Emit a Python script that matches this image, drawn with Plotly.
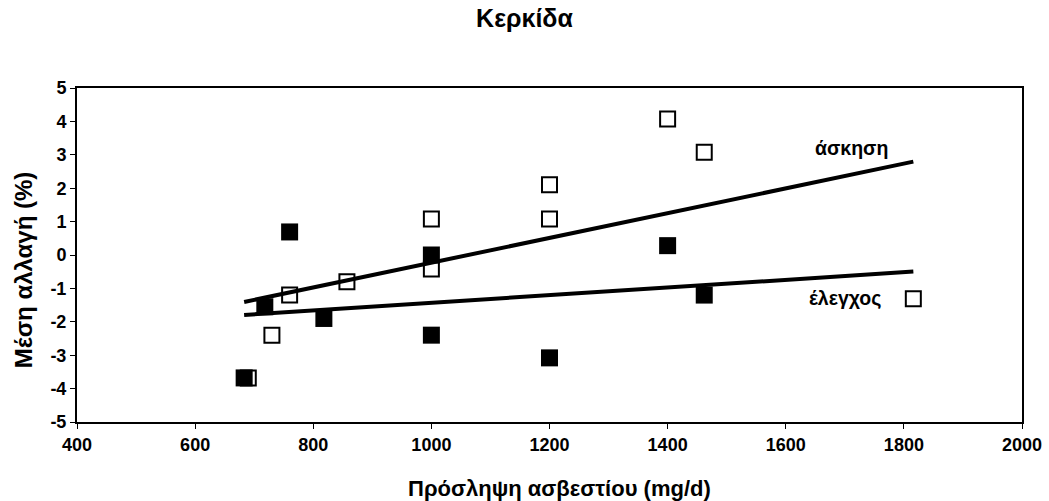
import numpy as np
import plotly.graph_objects as go

# Exercise group (open squares)
ex_x = [1400, 1462, 1200, 1200, 1000, 1000, 857, 760, 730, 690, 1816]
ex_y = [4.07, 3.08, 2.1, 1.08, 1.08, -0.42, -0.8, -1.2, -2.4, -3.68, -1.31]
# Control group (filled squares)
ct_x = [760, 1000, 1400, 1462, 718, 818, 1000, 1200, 683]
ct_y = [0.69, 0.0, 0.28, -1.2, -1.55, -1.9, -2.4, -3.08, -3.68]

x_tickvals = [400, 600, 800, 1000, 1200, 1400, 1600, 1800, 2000]
x_ticktext = ["400", "600", "800", "1000", "1200", "1400", "1600", "1800", "2000"]
y_tickvals = [-5, -4, -3, -2, -1, 0, 1, 2, 3, 4, 5]
y_ticktext = ["-5", "-4", "-3", "-2", "-1", "0", "1", "2", "3", "4", "5"]

title_text = "Κερκίδα"
x_title = "Πρόσληψη ασβεστίου (mg/d)"
y_title = "Μέση αλλαγή (%)"
label_ex = "άσκηση"
label_ct = "έλεγχος"

FONT = "Liberation Sans, Arial, sans-serif"

# Linear trendlines (least squares) over the full data span
all_x = ex_x + ct_x
span = np.array([min(all_x), max(all_x)])
ex_fit = np.polyfit(ex_x, ex_y, 1)
ct_fit = np.polyfit(ct_x, ct_y, 1)

fig = go.Figure()
fig.add_trace(go.Scatter(
    x=ex_x, y=ex_y, mode="markers", name=label_ex,
    marker=dict(symbol="square", size=15, color="white",
                line=dict(color="black", width=2)),
))
fig.add_trace(go.Scatter(
    x=ct_x, y=ct_y, mode="markers", name=label_ct,
    marker=dict(symbol="square", size=17, color="black",
                line=dict(width=0)),
))
fig.add_trace(go.Scatter(
    x=span, y=np.polyval(ex_fit, span), mode="lines",
    line=dict(color="black", width=4), showlegend=False,
))
fig.add_trace(go.Scatter(
    x=span, y=np.polyval(ct_fit, span), mode="lines",
    line=dict(color="black", width=4), showlegend=False,
))

fig.add_annotation(x=1711, y=3.2, text="<b>" + label_ex + "</b>", showarrow=False,
                   font=dict(family=FONT, size=19.5, color="black"))
fig.add_annotation(x=1700, y=-1.29, text="<b>" + label_ct + "</b>", showarrow=False,
                   font=dict(family=FONT, size=19.5, color="black"))

# Axis titles placed as paper-referenced annotations
fig.add_annotation(xref="paper", yref="paper", x=0.511, y=-0.2, xanchor="center",
                   yanchor="middle", text="<b>" + x_title + "</b>", showarrow=False,
                   font=dict(family=FONT, size=22, color="black"))
fig.add_annotation(xref="paper", yref="paper", x=-0.057, y=0.455, xanchor="center",
                   yanchor="middle", textangle=-90, text="<b>" + y_title + "</b>",
                   showarrow=False, font=dict(family=FONT, size=24, color="black"))

axis_common = dict(
    showgrid=False, zeroline=False, showline=True, linecolor="black",
    linewidth=2, mirror=True, ticks="outside", ticklen=5, tickwidth=1,
    tickcolor="black",
    tickfont=dict(family=FONT, size=18, color="black"),
)

fig.update_layout(
    width=1049, height=501,
    paper_bgcolor="white", plot_bgcolor="white",
    showlegend=False,
    margin=dict(l=77, r=27, t=88, b=79, autoexpand=False),
    title=dict(text="<b>" + title_text + "</b>", x=0.5, xanchor="center",
               y=1 - 18 / 501, yanchor="middle",
               font=dict(family=FONT, size=25, color="black")),
    xaxis=dict(range=[400, 2000], tickmode="array", tickvals=x_tickvals,
               ticktext=["<b>" + t + "</b>" for t in x_ticktext],
               **axis_common),
    yaxis=dict(range=[-5, 5], tickmode="array", tickvals=y_tickvals,
               ticktext=["<b>" + t + "</b>" for t in y_ticktext],
               **axis_common),
)

fig.write_html("out.html")
